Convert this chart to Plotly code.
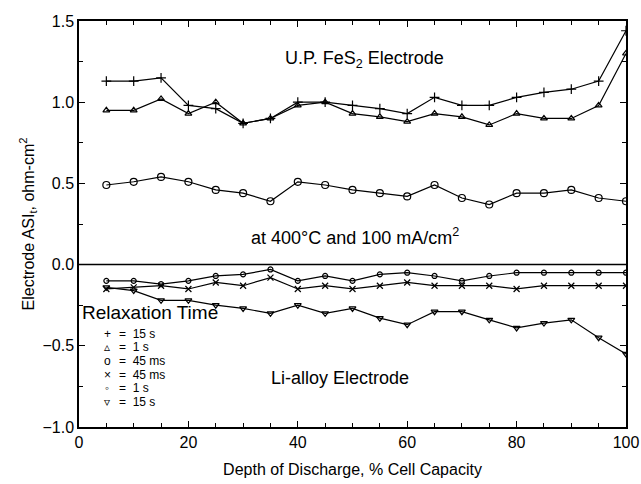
import plotly.graph_objects as go

dod = [5, 10, 15, 20, 25, 30, 35, 40, 45, 50, 55, 60, 65, 70, 75, 80, 85, 90, 95, 100]

fes2_15s = [1.13, 1.13, 1.15, 0.98, 0.96, 0.87, 0.90, 1.00, 1.00, 0.98, 0.96, 0.93, 1.03, 0.98, 0.98, 1.03, 1.06, 1.08, 1.13, 1.44]
fes2_1s = [0.95, 0.95, 1.02, 0.93, 1.00, 0.87, 0.90, 0.98, 1.00, 0.93, 0.91, 0.88, 0.93, 0.91, 0.86, 0.93, 0.90, 0.90, 0.98, 1.30]
fes2_45ms = [0.49, 0.51, 0.54, 0.51, 0.46, 0.44, 0.39, 0.51, 0.49, 0.46, 0.44, 0.42, 0.49, 0.41, 0.37, 0.44, 0.44, 0.46, 0.41, 0.39]

li_45ms = [-0.15, -0.14, -0.13, -0.15, -0.11, -0.13, -0.08, -0.15, -0.13, -0.15, -0.13, -0.11, -0.13, -0.13, -0.13, -0.15, -0.13, -0.13, -0.13, -0.13]
li_1s = [-0.10, -0.10, -0.12, -0.10, -0.07, -0.06, -0.03, -0.10, -0.07, -0.10, -0.06, -0.05, -0.07, -0.10, -0.07, -0.05, -0.05, -0.05, -0.05, -0.05]
li_15s = [-0.14, -0.16, -0.22, -0.22, -0.25, -0.27, -0.30, -0.25, -0.30, -0.27, -0.33, -0.37, -0.29, -0.29, -0.34, -0.39, -0.36, -0.34, -0.45, -0.55]

legend_symbols = ["+", "\u25b5", "o", "\u00d7", "\u25e6", "\u25bf"]
legend_labels = ["15 s", "1 s", "45 ms", "45 ms", "1 s", "15 s"]

FONT = "Liberation Sans, Arial, Helvetica, sans-serif"

series = [
    (fes2_15s, "cross-thin-open", 7),
    (fes2_1s, "triangle-up-open", 6),
    (fes2_45ms, "circle-open", 7),
    (li_45ms, "x-thin-open", 6),
    (li_1s, "circle-open", 5),
    (li_15s, "triangle-down-open", 6),
]

fig = go.Figure()
for vals, sym, size in series:
    fig.add_trace(go.Scatter(
        x=dod, y=vals, mode="lines+markers",
        line=dict(color="black", width=1.2),
        marker=dict(symbol=sym, size=size, color="black",
                    line=dict(color="black", width=1.2)),
        showlegend=False,
    ))

# zero reference line
fig.add_shape(type="line", xref="x", yref="y", x0=0, x1=100, y0=0, y1=0,
              line=dict(color="black", width=1.5))

ann = [
    dict(x=52.2, y=1.26, text="U.P. FeS<sub>2</sub> Electrode"),
    dict(x=50.5, y=0.17, text="at 400°C and 100 mA/cm<sup>2</sup>"),
    dict(x=47.8, y=-0.70, text="Li-alloy Electrode"),
]
for a in ann:
    fig.add_annotation(x=a["x"], y=a["y"], xref="x", yref="y", text=a["text"],
                       showarrow=False, font=dict(family=FONT, size=18, color="black"))

fig.add_annotation(x=0.2, y=-0.295, xref="x", yref="y", text="Relaxation Time",
                   xanchor="left", showarrow=False,
                   font=dict(family=FONT, size=19, color="black"))
for i, (s, lab) in enumerate(zip(legend_symbols, legend_labels)):
    yv = -0.425 - i * 0.084
    fig.add_annotation(x=5.2, y=yv, xref="x", yref="y", text=s, showarrow=False,
                       font=dict(family=FONT, size=12, color="black"))
    fig.add_annotation(x=7.0, y=yv, xref="x", yref="y", text="=  " + lab,
                       xanchor="left", showarrow=False,
                       font=dict(family=FONT, size=12, color="black"))

axis_common = dict(
    showline=True, linecolor="black", linewidth=1.5, mirror="ticks",
    ticks="inside", ticklen=6, tickcolor="black", tickwidth=1,
    showgrid=False, zeroline=False, automargin=False,
    tickfont=dict(family=FONT, size=16, color="black"),
)

fig.update_xaxes(range=[0, 100], tickvals=[0, 20, 40, 60, 80, 100],
                 minor=dict(dtick=5, ticks="inside", ticklen=4, tickcolor="black"),
                 title=dict(text="Depth of Discharge, % Cell Capacity",
                            font=dict(family=FONT, size=16, color="black"), standoff=14),
                 **axis_common)
fig.update_yaxes(range=[-1.0, 1.5], tickvals=[-1.0, -0.5, 0.0, 0.5, 1.0, 1.5],
                 tickformat=".1f",
                 minor=dict(dtick=0.25, ticks="inside", ticklen=4, tickcolor="black"),
                 title=dict(text="Electrode ASI<sub>t</sub>, ohm-cm<sup>2</sup>",
                            font=dict(family=FONT, size=16, color="black"), standoff=4),
                 **axis_common)

fig.update_layout(
    width=641, height=484,
    margin=dict(l=79, r=15, t=21, b=57),
    paper_bgcolor="white", plot_bgcolor="white",
    font=dict(family=FONT, color="black"),
)

fig.write_html("out.html", config={"displayModeBar": False},
               post_script="document.body.style.margin='0';document.body.style.padding='0';")
